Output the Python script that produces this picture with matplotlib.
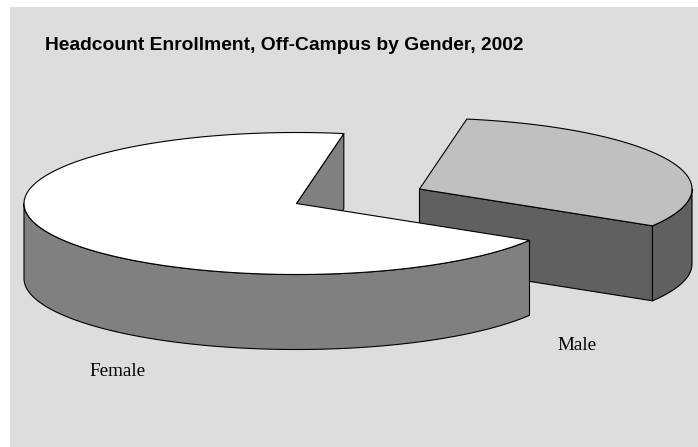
import numpy as np
import matplotlib
matplotlib.use('Agg')
import matplotlib.pyplot as plt
from matplotlib.patches import Polygon, Rectangle

title = 'Headcount Enrollment, Off-Campus by Gender, 2002'
labels = ['Female', 'Male']
shares = [69.1, 30.9]

# pie geometry in pixels
rx, ry = 272.5, 71
depth = 75
start_angle = 80
female_centre = (296.5, 203.5)
male_centre = (419.5, 189)

top_colors = ['#ffffff', '#c0c0c0']
side_colors = ['#808080', '#606060']

fig = plt.figure(figsize=(6.98, 4.47), dpi=100)
ax = fig.add_axes([0, 0, 1, 1])
ax.set_xlim(0, 698)
ax.set_ylim(447, 0)
ax.axis('off')

ax.add_patch(Rectangle((10, 7), 688, 440, facecolor='#dddddd', edgecolor='none'))


def arc(centre, a0, a1):
    t = np.radians(np.linspace(a0, a1, 200))
    return np.column_stack([centre[0] + rx * np.cos(t), centre[1] - ry * np.sin(t)])


def draw(pts, color, z):
    ax.add_patch(Polygon(pts, closed=True, facecolor=color, edgecolor='black',
                         linewidth=0.8, joinstyle='round', zorder=z))


def down(pts):
    return pts + np.array([0, depth])


sweeps = np.array(shares) / sum(shares) * 360

# Male slice goes behind Female
m0 = start_angle - sweeps[1]
m_c = np.array(male_centre, dtype=float)
m_arc = arc(male_centre, m0, start_angle)
m_end = m_arc[0]
m_cut = np.array([m_c, m_end, m_end + [0, depth], m_c + [0, depth]])
draw(m_cut, side_colors[1], 1)
m_side = arc(male_centre, m0, 0)
draw(np.vstack([m_side, down(m_side)[::-1]]), side_colors[1], 1)
draw(np.vstack([m_c, m_arc]), top_colors[1], 2)

# Female slice
f0 = start_angle
f1 = start_angle + sweeps[0]
f_c = np.array(female_centre, dtype=float)
f_arc = arc(female_centre, f0, f1)
f_start = f_arc[0]
f_cut = np.array([f_c, f_start, f_start + [0, depth], f_c + [0, depth]])
draw(f_cut, side_colors[0], 3)
f_side = arc(female_centre, 180, f1)
draw(np.vstack([f_side, down(f_side)[::-1]]), side_colors[0], 3)
draw(np.vstack([f_c, f_arc]), top_colors[0], 4)

ax.text(45, 45, title, family='Liberation Sans', fontweight='bold', fontsize=13.9,
        color='black', va='center', ha='left', zorder=5)
ax.text(89, 372, labels[0], family='Liberation Serif', fontsize=13.8,
        color='black', va='center', ha='left', zorder=5)
ax.text(557, 345.5, labels[1], family='Liberation Serif', fontsize=13.8,
        color='black', va='center', ha='left', zorder=5)

fig.savefig('out.png', dpi=100, facecolor='white')
